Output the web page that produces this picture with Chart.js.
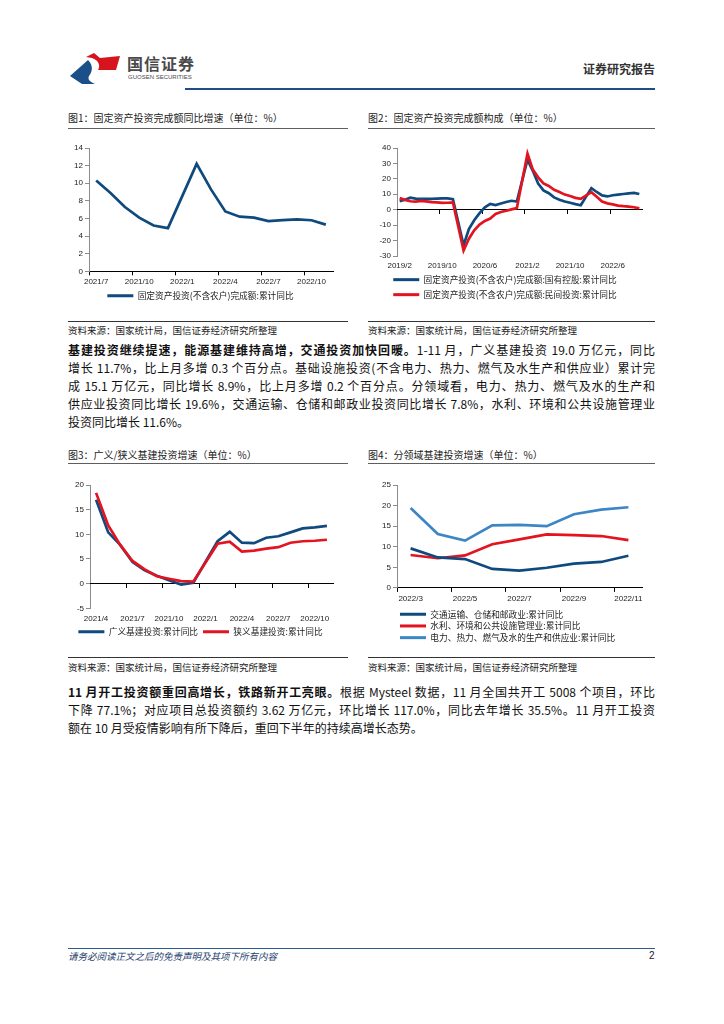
<!DOCTYPE html>
<html lang="zh-CN">
<head>
<meta charset="utf-8">
<script src="https://cdn.jsdelivr.net/npm/chart.js@4.4.0/dist/chart.umd.min.js"></script>
<style>
  html, body { margin: 0; padding: 0; background: #fff; }
  body { width: 724px; height: 1024px; position: relative; overflow: hidden;
         font-family: "Noto Sans CJK SC", "Noto Sans", sans-serif; color: #111; }
  .fig-title { position: absolute; font-size: 10px; line-height: 12px; color: #222; white-space: nowrap; }
  .rule { position: absolute; height: 1px; background: #5e5e5e; }
  .src-rule { position: absolute; height: 1px; background: #333; }
  .src { position: absolute; font-size: 9.5px; line-height: 12px; color: #222; white-space: nowrap; }
  .para { position: absolute; left: 68px; width: 587px; font-size: 12px; line-height: 18px; color: #111; }
  .para div { text-align: justify; text-align-last: justify; }
  .para div.last { text-align-last: left; }
  .para b { font-weight: 700; }
  canvas { position: absolute; }
</style>
</head>
<body>

<!-- header -->
<svg style="position:absolute;left:70px;top:52px" width="50" height="32" viewBox="0 0 50 32">
  <path d="M0,24 L18,8 C24,14 22,20 19,24 C17,28 21,30 25,32 L12,32 Z" fill="#1b4f8a"/>
  <path d="M16,5 L24,1 L30,6 L50,4 L46,18 L28,18 C31,13 28,8 22,6 Z" fill="#d7141e"/>
</svg>
<div style="position:absolute;left:127px;top:54px;font-size:16px;line-height:18px;font-weight:700;color:#4a4a4a;letter-spacing:1px">国信证券</div>
<div style="position:absolute;left:128px;top:74px;font-size:6px;line-height:7px;color:#4a4a4a;font-family:'Liberation Sans',sans-serif">GUOSEN SECURITIES</div>
<div style="position:absolute;right:69px;top:62px;font-size:12px;line-height:14px;font-weight:700;color:#333">证券研究报告</div>
<div style="position:absolute;left:185px;top:88px;width:470px;height:2px;background:#1f4e85"></div>

<!-- figure 1 / 2 -->
<div class="fig-title" style="left:68px;top:112px">图1：固定资产投资完成额同比增速（单位：%）</div>
<div class="rule" style="left:68px;top:128px;width:280px"></div>
<canvas id="fig1" width="280" height="175" style="left:68px;top:135px"></canvas>
<div class="src-rule" style="left:68px;top:321px;width:280px"></div>
<div class="src" style="left:68px;top:324px">资料来源：国家统计局，国信证券经济研究所整理</div>

<div class="fig-title" style="left:368px;top:112px">图2：固定资产投资完成额构成（单位：%）</div>
<div class="rule" style="left:368px;top:128px;width:287px"></div>
<canvas id="fig2" width="287" height="174" style="left:368px;top:135px"></canvas>
<div class="src-rule" style="left:368px;top:321px;width:287px"></div>
<div class="src" style="left:368px;top:324px">资料来源：国家统计局，国信证券经济研究所整理</div>

<div class="para" style="top:341px">
  <div><b>基建投资继续提速，能源基建维持高增，交通投资加快回暖。</b>1-11 月，广义基建投资 19.0 万亿元，同比</div>
  <div>增长 11.7%，比上月多增 0.3 个百分点。基础设施投资(不含电力、热力、燃气及水生产和供应业）累计完</div>
  <div>成 15.1 万亿元，同比增长 8.9%，比上月多增 0.2 个百分点。分领域看，电力、热力、燃气及水的生产和</div>
  <div>供应业投资同比增长 19.6%，交通运输、仓储和邮政业投资同比增长 7.8%，水利、环境和公共设施管理业</div>
  <div class="last">投资同比增长 11.6%。</div>
</div>

<!-- figure 3 / 4 -->
<div class="fig-title" style="left:68px;top:449px">图3：广义/狭义基建投资增速（单位：%）</div>
<div class="rule" style="left:68px;top:463px;width:280px"></div>
<canvas id="fig3" width="280" height="174" style="left:68px;top:472px"></canvas>
<div class="src-rule" style="left:68px;top:657px;width:280px"></div>
<div class="src" style="left:68px;top:661px">资料来源：国家统计局，国信证券经济研究所整理</div>

<div class="fig-title" style="left:368px;top:449px">图4：分领域基建投资增速（单位：%）</div>
<div class="rule" style="left:368px;top:463px;width:287px"></div>
<canvas id="fig4" width="287" height="180" style="left:368px;top:472px"></canvas>
<div class="src-rule" style="left:368px;top:657px;width:287px"></div>
<div class="src" style="left:368px;top:661px">资料来源：国家统计局，国信证券经济研究所整理</div>

<div class="para" style="top:683px">
  <div><b>11 月开工投资额重回高增长，铁路新开工亮眼。</b>根据 Mysteel 数据，11 月全国共开工 5008 个项目，环比</div>
  <div>下降 77.1%；对应项目总投资额约 3.62 万亿元，环比增长 117.0%，同比去年增长 35.5%。11 月开工投资</div>
  <div class="last">额在 10 月受疫情影响有所下降后，重回下半年的持续高增长态势。</div>
</div>

<!-- footer -->
<div style="position:absolute;left:68px;top:948px;width:587px;height:1px;background:#2b5a8c"></div>
<div style="position:absolute;left:68px;top:950px;font-size:9.5px;line-height:12px;font-style:italic;color:#1f3f6f">请务必阅读正文之后的免责声明及其项下所有内容</div>
<div style="position:absolute;left:649px;top:950px;font-size:10px;line-height:12px;color:#222;font-family:'Liberation Sans',sans-serif">2</div>

<script>
// ---------- data ----------
const fig1Labels = ['2021/7', '2021/8', '2021/9', '2021/10', '2021/11', '2021/12', '2022/1', '2022/2', '2022/3',
  '2022/4', '2022/5', '2022/6', '2022/7', '2022/8', '2022/9', '2022/10', '2022/11'];
const fig1Fai = [10.3, 8.9, 7.3, 6.1, 5.2, 4.9, null, 12.2, 9.3, 6.8, 6.2, 6.1, 5.7, 5.8, 5.9, 5.8, 5.3];

const fig2Labels = ['2019/2', '2019/3', '2019/4', '2019/5', '2019/6', '2019/7', '2019/8', '2019/9', '2019/10', '2019/11', '2019/12',
  '2020/1', '2020/2', '2020/3', '2020/4', '2020/5', '2020/6', '2020/7', '2020/8', '2020/9', '2020/10', '2020/11', '2020/12',
  '2021/1', '2021/2', '2021/3', '2021/4', '2021/5', '2021/6', '2021/7', '2021/8', '2021/9', '2021/10', '2021/11', '2021/12',
  '2022/1', '2022/2', '2022/3', '2022/4', '2022/5', '2022/6', '2022/7', '2022/8', '2022/9', '2022/10', '2022/11'];
const fig2State = [5.6, 6.5, 7.8, 7.2, 7.0, 7.0, 7.0, 7.2, 7.3, 7.3, 6.8,
  null, -23.0, -12.5, -6.8, -2.2, 1.5, 3.8, 3.0, 4.0, 5.0, 5.8, 5.3,
  null, 32.5, 25.2, 17.0, 12.5, 10.7, 8.0, 6.5, 5.3, 4.5, 3.6, 2.9,
  null, 14.0, 11.5, 9.3, 8.6, 9.4, 9.8, 10.2, 10.6, 10.9, 10.2];
const fig2Private = [7.5, 6.4, 5.5, 5.3, 5.7, 5.4, 4.9, 4.7, 4.4, 4.5, 4.7,
  null, -26.4, -18.8, -13.3, -9.6, -7.3, -5.7, -2.8, -1.5, -0.7, 0.2, 1.0,
  null, 36.4, 26.0, 21.0, 17.0, 15.4, 12.9, 11.5, 9.8, 8.9, 7.7, 7.0,
  null, 11.4, 8.4, 5.3, 4.1, 3.5, 2.7, 2.3, 2.0, 1.6, 0.9];

const fig3Labels = ['2021/4', '2021/5', '2021/6', '2021/7', '2021/8', '2021/9', '2021/10', '2021/11', '2021/12',
  '2022/1', '2022/2', '2022/3', '2022/4', '2022/5', '2022/6', '2022/7', '2022/8', '2022/9', '2022/10', '2022/11'];
const fig3Broad = [17.0, 10.4, 7.8, 4.4, 2.7, 1.6, 0.7, -0.2, 0.2, null, 8.6, 10.5, 8.3, 8.2, 9.3, 9.6, 10.4, 11.2, 11.4, 11.7];
const fig3Narrow = [18.4, 11.8, 7.8, 4.6, 2.9, 1.5, 1.0, 0.5, 0.4, null, 8.1, 8.5, 6.5, 6.7, 7.1, 7.4, 8.3, 8.6, 8.7, 8.9];

const fig4Labels = ['2022/3', '2022/4', '2022/5', '2022/6', '2022/7', '2022/8', '2022/9', '2022/10', '2022/11'];
const fig4Transport = [9.6, 7.4, 7.0, 4.6, 4.2, 4.9, 5.9, 6.3, 7.8];
const fig4Water = [8.0, 7.2, 7.9, 10.6, 11.8, 13.0, 12.8, 12.6, 11.6];
const fig4Power = [19.4, 13.1, 11.5, 15.2, 15.3, 15.0, 17.9, 19.0, 19.6];

// ---------- styling ----------
const NAVY = '#0f4a7e';
const RED = '#e3141f';
const SKY = '#3d86c6';
const AXIS_GREY = '#8c8c8c';
const tickFont = { family: '"Liberation Sans", Arial, sans-serif', size: 8 };
const legendFont = { family: '"Noto Sans CJK SC", sans-serif', size: 8.7 };

function lineSet(label, data, color, order) {
  return {
    label, data, order,
    xAxisID: 'x',
    borderColor: color,
    backgroundColor: color,
    borderWidth: 2.7,
    pointRadius: 0,
    tension: 0,
    spanGaps: true,
  };
}

// tick marks only at the left edge of every n-th category
function everyNth(n, color) {
  return (c) => (c.index % n === 0 ? color : 'rgba(0,0,0,0)');
}

function buildOptions(o) {
  const scales = {
    x: {
      type: 'category',
      offset: true,
      grid: {
        offset: true,
        drawOnChartArea: false,
        drawTicks: true,
        tickLength: 4,
        color: o.zeroAxis ? 'rgba(0,0,0,0)' : everyNth(o.every, '#000'),
      },
      border: { display: !o.zeroAxis, color: '#000', width: 1 },
      ticks: {
        autoSkip: false,
        maxRotation: 0,
        padding: o.xPad,
        font: tickFont,
        color: '#222',
        callback: function (v, i) { return i % o.every === 0 ? this.getLabelForValue(v) : ''; },
      },
      afterFit: (s) => { s.height = o.xHeight; },
    },
    y: {
      min: o.yMin,
      max: o.yMax,
      ticks: { stepSize: o.yStep, padding: 2, font: tickFont, color: '#222' },
      grid: { drawOnChartArea: false, drawTicks: true, tickLength: 4, color: AXIS_GREY },
      border: { color: AXIS_GREY, width: 1 },
      afterFit: (s) => { s.width = o.yWidth; },
    },
  };
  if (o.zeroAxis) {
    scales.xZero = {
      type: 'category',
      axis: 'x',
      offset: true,
      position: { y: 0 },
      grid: { offset: true, drawOnChartArea: false, drawTicks: true, tickLength: 4, color: everyNth(o.every, '#000') },
      border: { color: '#000', width: 1 },
      ticks: { display: false, autoSkip: false },
    };
  }
  return {
    responsive: false,
    animation: false,
    layout: { padding: { top: o.padTop, right: o.padRight, left: 0, bottom: 0 } },
    scales,
    plugins: {
      tooltip: { enabled: false },
      legend: {
        position: 'bottom',
        align: o.legendAlign || 'center',
        fullSize: o.legendFull !== false,
        labels: {
          boxWidth: 26,
          boxHeight: 3,
          padding: o.legendPad,
          font: legendFont,
          color: '#222',
          sort: (a, b) => a.datasetIndex - b.datasetIndex,
          generateLabels: (ch) => Chart.defaults.plugins.legend.labels.generateLabels(ch)
            .map((l) => Object.assign(l, { lineWidth: 0 })),
        },
      },
    },
  };
}

new Chart(document.getElementById('fig1'), {
  type: 'line',
  data: {
    labels: fig1Labels,
    datasets: [lineSet('固定资产投资(不含农户)完成额:累计同比', fig1Fai, NAVY, 0)],
  },
  options: buildOptions({ every: 3, yMin: 0, yMax: 14, yStep: 2, yWidth: 21, padTop: 13, padRight: 15,
    xHeight: 16, xPad: 2, legendPad: 4 }),
});

new Chart(document.getElementById('fig2'), {
  type: 'line',
  data: {
    labels: fig2Labels,
    datasets: [
      lineSet('固定资产投资(不含农户)完成额:国有控股:累计同比', fig2State, NAVY, 1),
      lineSet('固定资产投资(不含农户)完成额:民间投资:累计同比', fig2Private, RED, 0),
    ],
  },
  options: buildOptions({ every: 8, zeroAxis: true, yMin: -30, yMax: 40, yStep: 10, yWidth: 29, padTop: 13, padRight: 13,
    xHeight: 13, xPad: 1, legendPad: 6.3 }),
});

new Chart(document.getElementById('fig3'), {
  type: 'line',
  data: {
    labels: fig3Labels,
    datasets: [
      lineSet('广义基建投资:累计同比', fig3Broad, NAVY, 1),
      lineSet('狭义基建投资:累计同比', fig3Narrow, RED, 0),
    ],
  },
  options: buildOptions({ every: 3, zeroAxis: true, yMin: -5, yMax: 20, yStep: 5, yWidth: 22, padTop: 13, padRight: 15,
    xHeight: 14, xPad: 2, legendPad: 5 }),
});

new Chart(document.getElementById('fig4'), {
  type: 'line',
  data: {
    labels: fig4Labels,
    datasets: [
      lineSet('交通运输、仓储和邮政业:累计同比', fig4Transport, NAVY, 0),
      lineSet('水利、环境和公共设施管理业:累计同比', fig4Water, RED, 1),
      lineSet('电力、热力、燃气及水的生产和供应业:累计同比', fig4Power, SKY, 2),
    ],
  },
  options: buildOptions({ every: 2, yMin: 0, yMax: 25, yStep: 5, yWidth: 29, padTop: 13, padRight: 13,
    xHeight: 19, xPad: 2, legendPad: 3, legendAlign: 'start', legendFull: false }),
});
</script>
</body>
</html>
